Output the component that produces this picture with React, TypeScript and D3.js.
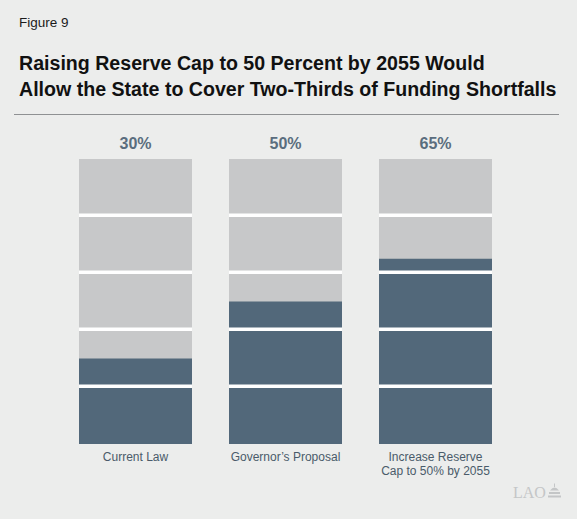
import { useEffect, useRef } from "react";
import * as d3 from "d3";

const categories = ["Current Law", "Governor’s Proposal", "Increase Reserve|Cap to 50% by 2055"];
const coverage = [30, 50, 65];
const bandTicks = [20, 40, 60, 80];

const W = 577;
const H = 519;

export default function App() {
  const svgRef = useRef<SVGSVGElement>(null);

  useEffect(() => {
    document.body.style.margin = "0";
    if (!svgRef.current) return;
    const svg = d3.select(svgRef.current);
    svg.selectAll("*").remove();

    const font = "'Liberation Sans', Arial, Helvetica, sans-serif";

    svg.append("rect").attr("width", W).attr("height", H).attr("fill", "#ecedec");

    svg.append("text")
      .attr("x", 19).attr("y", 27)
      .attr("font-family", font).attr("font-size", 13.5).attr("fill", "#1a1a1a")
      .text("Figure 9");

    const title = [
      "Raising Reserve Cap to 50 Percent by 2055 Would",
      "Allow the State to Cover Two-Thirds of Funding Shortfalls",
    ];
    svg.append("g").selectAll("text")
      .data(title)
      .enter()
      .append("text")
      .attr("x", 19)
      .attr("y", (_, i) => 70 + i * 25.5)
      .attr("font-family", font).attr("font-size", 19.6).attr("font-weight", "bold")
      .attr("fill", "#111")
      .text(d => d);

    svg.append("line")
      .attr("x1", 14).attr("x2", 559).attr("y1", 114.5).attr("y2", 114.5)
      .attr("stroke", "#8f9193").attr("stroke-width", 1);

    const x = d3.scaleBand<string>()
      .domain(categories)
      .range([79, 492])
      .paddingInner(37 / 150)
      .paddingOuter(0);

    const y = d3.scaleLinear().domain([0, 100]).range([444, 159]);

    const cols = svg.append("g").selectAll("g")
      .data(categories)
      .enter()
      .append("g")
      .attr("transform", d => `translate(${x(d)},0)`);

    // background bar
    cols.append("rect")
      .attr("y", y(100))
      .attr("width", x.bandwidth())
      .attr("height", y(0) - y(100))
      .attr("fill", "#c7c8c9");

    // covered share
    cols.append("rect")
      .attr("y", (_, i) => y(coverage[i]))
      .attr("width", x.bandwidth())
      .attr("height", (_, i) => y(0) - y(coverage[i]))
      .attr("fill", "#52687a");

    // white separators
    cols.selectAll("line")
      .data(bandTicks)
      .enter()
      .append("line")
      .attr("x1", 0).attr("x2", x.bandwidth())
      .attr("y1", d => y(d) - 0.8).attr("y2", d => y(d) - 0.8)
      .attr("stroke", "#ffffff").attr("stroke-width", 3.5);

    // percentage labels
    cols.append("text")
      .attr("x", x.bandwidth() / 2)
      .attr("y", 149)
      .attr("text-anchor", "middle")
      .attr("font-family", font).attr("font-size", 16).attr("font-weight", "bold")
      .attr("fill", "#5a6d7e")
      .text((_, i) => `${coverage[i]}%`);

    // category labels
    cols.append("text")
      .attr("text-anchor", "middle")
      .attr("font-family", font).attr("font-size", 12).attr("fill", "#4a5b6a")
      .selectAll("tspan")
      .data(d => d.split("|"))
      .enter()
      .append("tspan")
      .attr("x", x.bandwidth() / 2)
      .attr("y", (_, i) => 460.5 + i * 14.5)
      .text(d => d);

    // LAO mark
    const logo = svg.append("g").attr("transform", "translate(513,497.5)");
    logo.append("text")
      .attr("font-family", "'Liberation Serif', 'DejaVu Serif', serif")
      .attr("font-size", 16).attr("fill", "#c4c6c7")
      .text("LAO");
    const dome = logo.append("g").attr("transform", "translate(35,0)").attr("fill", "#c4c6c7");
    dome.append("rect").attr("x", 0).attr("y", -2).attr("width", 13).attr("height", 2);
    dome.append("rect").attr("x", 1).attr("y", -5.5).attr("width", 11).attr("height", 2);
    dome.append("path").attr("d", "M2,-7 Q6.5,-13 11,-7 Z");
    dome.append("rect").attr("x", 6).attr("y", -14).attr("width", 1).attr("height", 3.5);
  }, []);

  return <svg ref={svgRef} width={W} height={H} style={{ display: "block" }} />;
}
